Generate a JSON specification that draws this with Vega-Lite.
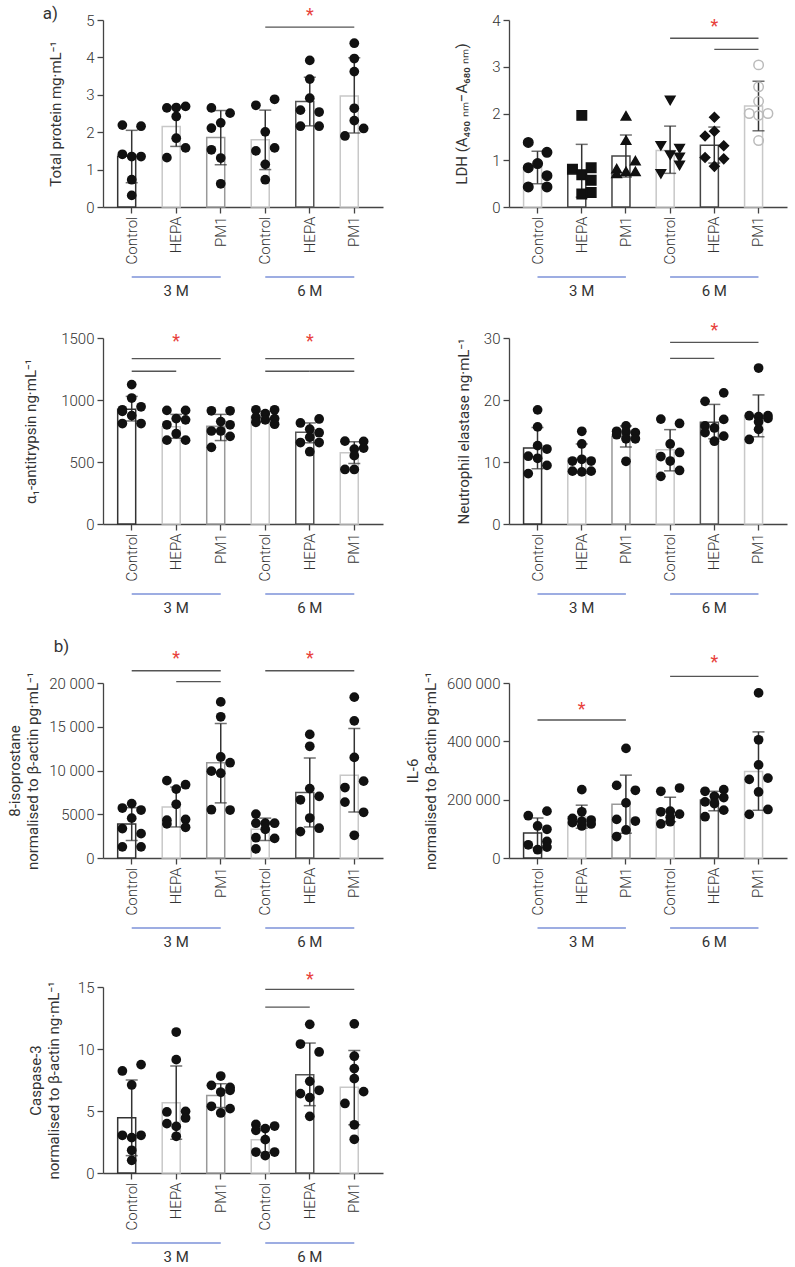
{
  "$schema": "https://vega.github.io/schema/vega-lite/v6.json",
  "background": "white",
  "padding": {"left": 7, "top": 5, "right": 2, "bottom": 3},
  "columns": 2,
  "spacing": {"row": 21, "column": 22},
  "align": "each",
  "datasets": {
    "grp": [
      {"t": "3 M", "a": "3 M|Control", "b": "3 M|PM1", "m": "3 M|HEPA"},
      {"t": "6 M", "a": "6 M|Control", "b": "6 M|PM1", "m": "6 M|HEPA"}
    ],
    "sum": [
      {"p": "tp", "g": "3 M|Control", "mean": 1.36, "lo": 0.65, "hi": 2.05},
      {"p": "tp", "g": "3 M|HEPA", "mean": 2.15, "lo": 1.62, "hi": 2.68},
      {"p": "tp", "g": "3 M|PM1", "mean": 1.86, "lo": 1.13, "hi": 2.58},
      {"p": "tp", "g": "6 M|Control", "mean": 1.80, "lo": 1.00, "hi": 2.59},
      {"p": "tp", "g": "6 M|HEPA", "mean": 2.82, "lo": 2.17, "hi": 3.47},
      {"p": "tp", "g": "6 M|PM1", "mean": 2.97, "lo": 1.98, "hi": 3.99},
      {"p": "ldh", "g": "3 M|Control", "mean": 0.84, "lo": 0.50, "hi": 1.19},
      {"p": "ldh", "g": "3 M|HEPA", "mean": 0.78, "lo": 0.21, "hi": 1.34},
      {"p": "ldh", "g": "3 M|PM1", "mean": 1.09, "lo": 0.64, "hi": 1.54},
      {"p": "ldh", "g": "6 M|Control", "mean": 1.21, "lo": 0.72, "hi": 1.73},
      {"p": "ldh", "g": "6 M|HEPA", "mean": 1.32, "lo": 0.94, "hi": 1.71},
      {"p": "ldh", "g": "6 M|PM1", "mean": 2.16, "lo": 1.63, "hi": 2.69},
      {"p": "a1", "g": "3 M|Control", "mean": 926, "lo": 831, "hi": 1029},
      {"p": "a1", "g": "3 M|HEPA", "mean": 784, "lo": 691, "hi": 884},
      {"p": "a1", "g": "3 M|PM1", "mean": 789, "lo": 673, "hi": 884},
      {"p": "a1", "g": "6 M|Control", "mean": 866, "lo": 824, "hi": 908},
      {"p": "a1", "g": "6 M|HEPA", "mean": 739, "lo": 655, "hi": 815},
      {"p": "a1", "g": "6 M|PM1", "mean": 575, "lo": 487, "hi": 663},
      {"p": "ne", "g": "3 M|Control", "mean": 12.25, "lo": 8.90, "hi": 15.55},
      {"p": "ne", "g": "3 M|HEPA", "mean": 10.55, "lo": 8.20, "hi": 12.91},
      {"p": "ne", "g": "3 M|PM1", "mean": 14.12, "lo": 12.42, "hi": 15.82},
      {"p": "ne", "g": "6 M|Control", "mean": 11.98, "lo": 8.57, "hi": 15.22},
      {"p": "ne", "g": "6 M|HEPA", "mean": 16.43, "lo": 13.74, "hi": 19.29},
      {"p": "ne", "g": "6 M|PM1", "mean": 17.40, "lo": 14.07, "hi": 20.82},
      {"p": "iso", "g": "3 M|Control", "mean": 3900, "lo": 2000, "hi": 5750},
      {"p": "iso", "g": "3 M|HEPA", "mean": 5830, "lo": 3550, "hi": 8108},
      {"p": "iso", "g": "3 M|PM1", "mean": 10888, "lo": 6300, "hi": 15370},
      {"p": "iso", "g": "6 M|Control", "mean": 3282, "lo": 2000, "hi": 4556},
      {"p": "iso", "g": "6 M|HEPA", "mean": 7490, "lo": 3550, "hi": 11429},
      {"p": "iso", "g": "6 M|PM1", "mean": 9470, "lo": 5250, "hi": 14800},
      {"p": "il6", "g": "3 M|Control", "mean": 86000, "lo": 35000, "hi": 137000},
      {"p": "il6", "g": "3 M|HEPA", "mean": 141500, "lo": 102000, "hi": 181100},
      {"p": "il6", "g": "3 M|PM1", "mean": 184500, "lo": 85000, "hi": 284100},
      {"p": "il6", "g": "6 M|Control", "mean": 166400, "lo": 124500, "hi": 208300},
      {"p": "il6", "g": "6 M|HEPA", "mean": 199200, "lo": 161900, "hi": 228700},
      {"p": "il6", "g": "6 M|PM1", "mean": 296600, "lo": 163600, "hi": 432400},
      {"p": "cas", "g": "3 M|Control", "mean": 4.46, "lo": 1.40, "hi": 7.50},
      {"p": "cas", "g": "3 M|HEPA", "mean": 5.67, "lo": 2.72, "hi": 8.63},
      {"p": "cas", "g": "3 M|PM1", "mean": 6.24, "lo": 5.28, "hi": 7.20},
      {"p": "cas", "g": "6 M|Control", "mean": 2.69, "lo": 1.67, "hi": 3.71},
      {"p": "cas", "g": "6 M|HEPA", "mean": 7.93, "lo": 5.43, "hi": 10.48},
      {"p": "cas", "g": "6 M|PM1", "mean": 6.91, "lo": 3.90, "hi": 9.87}
    ],
    "sig": [
      {"p": "tp", "a": "6 M|Control", "b": "6 M|PM1", "y": 4.81},
      {"p": "ldh", "a": "6 M|Control", "b": "6 M|PM1", "y": 3.61},
      {"p": "ldh", "a": "6 M|HEPA", "b": "6 M|PM1", "y": 3.37},
      {"p": "a1", "a": "3 M|Control", "b": "3 M|PM1", "y": 1333},
      {"p": "a1", "a": "3 M|Control", "b": "3 M|HEPA", "y": 1232},
      {"p": "a1", "a": "6 M|Control", "b": "6 M|PM1", "y": 1333},
      {"p": "a1", "a": "6 M|Control", "b": "6 M|HEPA", "y": 1232},
      {"p": "a1", "a": "6 M|HEPA", "b": "6 M|PM1", "y": 1232},
      {"p": "ne", "a": "6 M|Control", "b": "6 M|PM1", "y": 29.29},
      {"p": "ne", "a": "6 M|Control", "b": "6 M|HEPA", "y": 26.70},
      {"p": "iso", "a": "3 M|Control", "b": "3 M|PM1", "y": 21400},
      {"p": "iso", "a": "3 M|HEPA", "b": "3 M|PM1", "y": 20150},
      {"p": "iso", "a": "6 M|Control", "b": "6 M|PM1", "y": 21400},
      {"p": "il6", "a": "3 M|Control", "b": "3 M|PM1", "y": 473200},
      {"p": "il6", "a": "6 M|Control", "b": "6 M|PM1", "y": 622600},
      {"p": "cas", "a": "6 M|Control", "b": "6 M|PM1", "y": 14.81},
      {"p": "cas", "a": "6 M|Control", "b": "6 M|HEPA", "y": 13.38}
    ],
    "star": [
      {"p": "tp", "m": "6 M|HEPA", "y": 5.10},
      {"p": "ldh", "m": "6 M|HEPA", "y": 3.86},
      {"p": "a1", "m": "3 M|HEPA", "y": 1467},
      {"p": "a1", "m": "6 M|HEPA", "y": 1467},
      {"p": "ne", "m": "6 M|HEPA", "y": 31.2},
      {"p": "iso", "m": "3 M|HEPA", "y": 22700},
      {"p": "iso", "m": "6 M|HEPA", "y": 22700},
      {"p": "il6", "m": "3 M|HEPA", "y": 506000},
      {"p": "il6", "m": "6 M|HEPA", "y": 667800},
      {"p": "cas", "m": "6 M|HEPA", "y": 15.54}
    ],
    "pts": [
      {"p":"tp","g":"3 M|Control","v":2.19,"c":"L"},{"p":"tp","g":"3 M|Control","v":2.16,"c":"R"},{"p":"tp","g":"3 M|Control","v":1.41,"c":"L"},{"p":"tp","g":"3 M|Control","v":1.35,"c":"C"},{"p":"tp","g":"3 M|Control","v":1.35,"c":"R"},{"p":"tp","g":"3 M|Control","v":0.73,"c":"C"},{"p":"tp","g":"3 M|Control","v":0.31,"c":"C"},
      {"p":"tp","g":"3 M|HEPA","v":2.65,"c":"L"},{"p":"tp","g":"3 M|HEPA","v":2.69,"c":"R"},{"p":"tp","g":"3 M|HEPA","v":2.66,"c":"C"},{"p":"tp","g":"3 M|HEPA","v":2.42,"c":"C"},{"p":"tp","g":"3 M|HEPA","v":1.84,"c":"C"},{"p":"tp","g":"3 M|HEPA","v":1.58,"c":"R"},{"p":"tp","g":"3 M|HEPA","v":1.32,"c":"L"},
      {"p":"tp","g":"3 M|PM1","v":2.65,"c":"L"},{"p":"tp","g":"3 M|PM1","v":2.51,"c":"R"},{"p":"tp","g":"3 M|PM1","v":2.25,"c":"C"},{"p":"tp","g":"3 M|PM1","v":2.11,"c":"L"},{"p":"tp","g":"3 M|PM1","v":1.53,"c":"L"},{"p":"tp","g":"3 M|PM1","v":1.31,"c":"C"},{"p":"tp","g":"3 M|PM1","v":0.62,"c":"C"},
      {"p":"tp","g":"6 M|Control","v":2.72,"c":"L"},{"p":"tp","g":"6 M|Control","v":2.88,"c":"R"},{"p":"tp","g":"6 M|Control","v":2.01,"c":"C"},{"p":"tp","g":"6 M|Control","v":1.50,"c":"L"},{"p":"tp","g":"6 M|Control","v":1.58,"c":"R"},{"p":"tp","g":"6 M|Control","v":1.14,"c":"C"},{"p":"tp","g":"6 M|Control","v":0.73,"c":"C"},
      {"p":"tp","g":"6 M|HEPA","v":3.92,"c":"C"},{"p":"tp","g":"6 M|HEPA","v":3.42,"c":"C"},{"p":"tp","g":"6 M|HEPA","v":2.91,"c":"C"},{"p":"tp","g":"6 M|HEPA","v":2.59,"c":"L"},{"p":"tp","g":"6 M|HEPA","v":2.54,"c":"R"},{"p":"tp","g":"6 M|HEPA","v":2.16,"c":"L"},{"p":"tp","g":"6 M|HEPA","v":2.16,"c":"R"},
      {"p":"tp","g":"6 M|PM1","v":4.38,"c":"C"},{"p":"tp","g":"6 M|PM1","v":3.97,"c":"C"},{"p":"tp","g":"6 M|PM1","v":3.62,"c":"C"},{"p":"tp","g":"6 M|PM1","v":2.64,"c":"C"},{"p":"tp","g":"6 M|PM1","v":2.31,"c":"C"},{"p":"tp","g":"6 M|PM1","v":2.10,"c":"R"},{"p":"tp","g":"6 M|PM1","v":1.90,"c":"L"},

      {"p":"ldh","g":"3 M|Control","v":1.38,"c":"L"},{"p":"ldh","g":"3 M|Control","v":1.17,"c":"R"},{"p":"ldh","g":"3 M|Control","v":0.93,"c":"C"},{"p":"ldh","g":"3 M|Control","v":0.84,"c":"L"},{"p":"ldh","g":"3 M|Control","v":0.67,"c":"R"},{"p":"ldh","g":"3 M|Control","v":0.43,"c":"L"},{"p":"ldh","g":"3 M|Control","v":0.43,"c":"R"},
      {"p":"ldh","g":"3 M|HEPA","v":1.96,"c":"C"},{"p":"ldh","g":"3 M|HEPA","v":0.84,"c":"R"},{"p":"ldh","g":"3 M|HEPA","v":0.81,"c":"L"},{"p":"ldh","g":"3 M|HEPA","v":0.69,"c":"C"},{"p":"ldh","g":"3 M|HEPA","v":0.57,"c":"R"},{"p":"ldh","g":"3 M|HEPA","v":0.31,"c":"R"},{"p":"ldh","g":"3 M|HEPA","v":0.28,"c":"C"},
      {"p":"ldh","g":"3 M|PM1","v":1.95,"c":"C"},{"p":"ldh","g":"3 M|PM1","v":1.43,"c":"C"},{"p":"ldh","g":"3 M|PM1","v":0.99,"c":"R"},{"p":"ldh","g":"3 M|PM1","v":0.82,"c":"L"},{"p":"ldh","g":"3 M|PM1","v":0.76,"c":"R"},{"p":"ldh","g":"3 M|PM1","v":0.72,"c":"L"},{"p":"ldh","g":"3 M|PM1","v":0.76,"c":"C"},
      {"p":"ldh","g":"6 M|Control","v":2.28,"c":"C"},{"p":"ldh","g":"6 M|Control","v":1.31,"c":"L"},{"p":"ldh","g":"6 M|Control","v":1.25,"c":"R"},{"p":"ldh","g":"6 M|Control","v":1.11,"c":"C"},{"p":"ldh","g":"6 M|Control","v":1.06,"c":"R"},{"p":"ldh","g":"6 M|Control","v":0.89,"c":"R"},{"p":"ldh","g":"6 M|Control","v":0.71,"c":"L"},
      {"p":"ldh","g":"6 M|HEPA","v":1.92,"c":"C"},{"p":"ldh","g":"6 M|HEPA","v":1.62,"c":"C"},{"p":"ldh","g":"6 M|HEPA","v":1.52,"c":"L"},{"p":"ldh","g":"6 M|HEPA","v":1.31,"c":"R"},{"p":"ldh","g":"6 M|HEPA","v":1.06,"c":"L"},{"p":"ldh","g":"6 M|HEPA","v":1.03,"c":"R"},{"p":"ldh","g":"6 M|HEPA","v":0.87,"c":"C"},
      {"p":"ldh","g":"6 M|PM1","v":3.04,"c":"C"},{"p":"ldh","g":"6 M|PM1","v":2.57,"c":"C"},{"p":"ldh","g":"6 M|PM1","v":2.26,"c":"C"},{"p":"ldh","g":"6 M|PM1","v":2.00,"c":"L"},{"p":"ldh","g":"6 M|PM1","v":2.00,"c":"R"},{"p":"ldh","g":"6 M|PM1","v":1.96,"c":"C"},{"p":"ldh","g":"6 M|PM1","v":1.42,"c":"C"},

      {"p":"a1","g":"3 M|Control","v":1124,"c":"C"},{"p":"a1","g":"3 M|Control","v":1016,"c":"C"},{"p":"a1","g":"3 M|Control","v":921,"c":"L"},{"p":"a1","g":"3 M|Control","v":908,"c":"L"},{"p":"a1","g":"3 M|Control","v":945,"c":"R"},{"p":"a1","g":"3 M|Control","v":874,"c":"C"},{"p":"a1","g":"3 M|Control","v":810,"c":"L"},{"p":"a1","g":"3 M|Control","v":810,"c":"R"},
      {"p":"a1","g":"3 M|HEPA","v":916,"c":"L"},{"p":"a1","g":"3 M|HEPA","v":916,"c":"R"},{"p":"a1","g":"3 M|HEPA","v":850,"c":"C"},{"p":"a1","g":"3 M|HEPA","v":840,"c":"R"},{"p":"a1","g":"3 M|HEPA","v":800,"c":"L"},{"p":"a1","g":"3 M|HEPA","v":728,"c":"C"},{"p":"a1","g":"3 M|HEPA","v":676,"c":"L"},{"p":"a1","g":"3 M|HEPA","v":676,"c":"R"},
      {"p":"a1","g":"3 M|PM1","v":913,"c":"L"},{"p":"a1","g":"3 M|PM1","v":913,"c":"R"},{"p":"a1","g":"3 M|PM1","v":826,"c":"C"},{"p":"a1","g":"3 M|PM1","v":800,"c":"R"},{"p":"a1","g":"3 M|PM1","v":750,"c":"L"},{"p":"a1","g":"3 M|PM1","v":750,"c":"C"},{"p":"a1","g":"3 M|PM1","v":707,"c":"R"},{"p":"a1","g":"3 M|PM1","v":618,"c":"L"},
      {"p":"a1","g":"6 M|Control","v":921,"c":"L"},{"p":"a1","g":"6 M|Control","v":921,"c":"R"},{"p":"a1","g":"6 M|Control","v":890,"c":"C"},{"p":"a1","g":"6 M|Control","v":860,"c":"L"},{"p":"a1","g":"6 M|Control","v":850,"c":"R"},{"p":"a1","g":"6 M|Control","v":840,"c":"C"},{"p":"a1","g":"6 M|Control","v":820,"c":"L"},{"p":"a1","g":"6 M|Control","v":805,"c":"R"},
      {"p":"a1","g":"6 M|HEPA","v":815,"c":"L"},{"p":"a1","g":"6 M|HEPA","v":847,"c":"R"},{"p":"a1","g":"6 M|HEPA","v":765,"c":"C"},{"p":"a1","g":"6 M|HEPA","v":736,"c":"R"},{"p":"a1","g":"6 M|HEPA","v":700,"c":"C"},{"p":"a1","g":"6 M|HEPA","v":657,"c":"L"},{"p":"a1","g":"6 M|HEPA","v":657,"c":"R"},{"p":"a1","g":"6 M|HEPA","v":583,"c":"C"},
      {"p":"a1","g":"6 M|PM1","v":668,"c":"L"},{"p":"a1","g":"6 M|PM1","v":666,"c":"R"},{"p":"a1","g":"6 M|PM1","v":612,"c":"R"},{"p":"a1","g":"6 M|PM1","v":604,"c":"C"},{"p":"a1","g":"6 M|PM1","v":551,"c":"C"},{"p":"a1","g":"6 M|PM1","v":440,"c":"L"},{"p":"a1","g":"6 M|PM1","v":440,"c":"C"},

      {"p":"ne","g":"3 M|Control","v":18.41,"c":"C"},{"p":"ne","g":"3 M|Control","v":15.66,"c":"C"},{"p":"ne","g":"3 M|Control","v":12.64,"c":"C"},{"p":"ne","g":"3 M|Control","v":12.09,"c":"R"},{"p":"ne","g":"3 M|Control","v":10.93,"c":"L"},{"p":"ne","g":"3 M|Control","v":10.6,"c":"C"},{"p":"ne","g":"3 M|Control","v":9.45,"c":"R"},{"p":"ne","g":"3 M|Control","v":8.13,"c":"L"},
      {"p":"ne","g":"3 M|HEPA","v":14.95,"c":"C"},{"p":"ne","g":"3 M|HEPA","v":12.91,"c":"C"},{"p":"ne","g":"3 M|HEPA","v":10.44,"c":"C"},{"p":"ne","g":"3 M|HEPA","v":10.16,"c":"L"},{"p":"ne","g":"3 M|HEPA","v":10.16,"c":"R"},{"p":"ne","g":"3 M|HEPA","v":8.52,"c":"L"},{"p":"ne","g":"3 M|HEPA","v":8.41,"c":"C"},{"p":"ne","g":"3 M|HEPA","v":8.52,"c":"R"},
      {"p":"ne","g":"3 M|PM1","v":15.82,"c":"C"},{"p":"ne","g":"3 M|PM1","v":14.95,"c":"L"},{"p":"ne","g":"3 M|PM1","v":14.84,"c":"C"},{"p":"ne","g":"3 M|PM1","v":14.73,"c":"R"},{"p":"ne","g":"3 M|PM1","v":14.40,"c":"L"},{"p":"ne","g":"3 M|PM1","v":13.74,"c":"R"},{"p":"ne","g":"3 M|PM1","v":13.74,"c":"C"},{"p":"ne","g":"3 M|PM1","v":10.11,"c":"C"},
      {"p":"ne","g":"6 M|Control","v":16.92,"c":"L"},{"p":"ne","g":"6 M|Control","v":16.21,"c":"R"},{"p":"ne","g":"6 M|Control","v":12.91,"c":"C"},{"p":"ne","g":"6 M|Control","v":11.54,"c":"R"},{"p":"ne","g":"6 M|Control","v":10.88,"c":"L"},{"p":"ne","g":"6 M|Control","v":10.16,"c":"C"},{"p":"ne","g":"6 M|Control","v":8.63,"c":"R"},{"p":"ne","g":"6 M|Control","v":7.69,"c":"L"},
      {"p":"ne","g":"6 M|HEPA","v":21.15,"c":"R"},{"p":"ne","g":"6 M|HEPA","v":19.78,"c":"L"},{"p":"ne","g":"6 M|HEPA","v":16.87,"c":"R"},{"p":"ne","g":"6 M|HEPA","v":15.82,"c":"L"},{"p":"ne","g":"6 M|HEPA","v":15.49,"c":"C"},{"p":"ne","g":"6 M|HEPA","v":14.73,"c":"L"},{"p":"ne","g":"6 M|HEPA","v":14.18,"c":"R"},{"p":"ne","g":"6 M|HEPA","v":13.35,"c":"C"},
      {"p":"ne","g":"6 M|PM1","v":25.16,"c":"C"},{"p":"ne","g":"6 M|PM1","v":17.47,"c":"L"},{"p":"ne","g":"6 M|PM1","v":17.30,"c":"C"},{"p":"ne","g":"6 M|PM1","v":17.47,"c":"R"},{"p":"ne","g":"6 M|PM1","v":17.03,"c":"R"},{"p":"ne","g":"6 M|PM1","v":16.48,"c":"C"},{"p":"ne","g":"6 M|PM1","v":15.27,"c":"C"},{"p":"ne","g":"6 M|PM1","v":13.63,"c":"L"},

      {"p":"iso","g":"3 M|Control","v":6216,"c":"C"},{"p":"iso","g":"3 M|Control","v":5714,"c":"L"},{"p":"iso","g":"3 M|Control","v":5483,"c":"R"},{"p":"iso","g":"3 M|Control","v":4556,"c":"C"},{"p":"iso","g":"3 M|Control","v":3359,"c":"L"},{"p":"iso","g":"3 M|Control","v":2780,"c":"R"},{"p":"iso","g":"3 M|Control","v":1274,"c":"L"},{"p":"iso","g":"3 M|Control","v":1274,"c":"R"},
      {"p":"iso","g":"3 M|HEPA","v":8842,"c":"L"},{"p":"iso","g":"3 M|HEPA","v":8378,"c":"R"},{"p":"iso","g":"3 M|HEPA","v":7877,"c":"C"},{"p":"iso","g":"3 M|HEPA","v":6139,"c":"C"},{"p":"iso","g":"3 M|HEPA","v":4401,"c":"R"},{"p":"iso","g":"3 M|HEPA","v":4324,"c":"L"},{"p":"iso","g":"3 M|HEPA","v":3900,"c":"L"},{"p":"iso","g":"3 M|HEPA","v":3513,"c":"R"},
      {"p":"iso","g":"3 M|PM1","v":17838,"c":"C"},{"p":"iso","g":"3 M|PM1","v":16139,"c":"C"},{"p":"iso","g":"3 M|PM1","v":11544,"c":"C"},{"p":"iso","g":"3 M|PM1","v":10888,"c":"R"},{"p":"iso","g":"3 M|PM1","v":9923,"c":"L"},{"p":"iso","g":"3 M|PM1","v":9691,"c":"C"},{"p":"iso","g":"3 M|PM1","v":5521,"c":"L"},{"p":"iso","g":"3 M|PM1","v":5483,"c":"R"},
      {"p":"iso","g":"6 M|Control","v":5019,"c":"L"},{"p":"iso","g":"6 M|Control","v":3977,"c":"L"},{"p":"iso","g":"6 M|Control","v":3977,"c":"C"},{"p":"iso","g":"6 M|Control","v":3977,"c":"R"},{"p":"iso","g":"6 M|Control","v":3282,"c":"C"},{"p":"iso","g":"6 M|Control","v":2317,"c":"L"},{"p":"iso","g":"6 M|Control","v":2239,"c":"R"},{"p":"iso","g":"6 M|Control","v":1042,"c":"L"},
      {"p":"iso","g":"6 M|HEPA","v":14126,"c":"C"},{"p":"iso","g":"6 M|HEPA","v":12771,"c":"C"},{"p":"iso","g":"6 M|HEPA","v":7934,"c":"C"},{"p":"iso","g":"6 M|HEPA","v":7043,"c":"R"},{"p":"iso","g":"6 M|HEPA","v":6656,"c":"L"},{"p":"iso","g":"6 M|HEPA","v":4567,"c":"C"},{"p":"iso","g":"6 M|HEPA","v":3406,"c":"R"},{"p":"iso","g":"6 M|HEPA","v":3019,"c":"L"},
      {"p":"iso","g":"6 M|PM1","v":18383,"c":"C"},{"p":"iso","g":"6 M|PM1","v":15674,"c":"C"},{"p":"iso","g":"6 M|PM1","v":11494,"c":"C"},{"p":"iso","g":"6 M|PM1","v":8785,"c":"R"},{"p":"iso","g":"6 M|PM1","v":8050,"c":"L"},{"p":"iso","g":"6 M|PM1","v":6386,"c":"L"},{"p":"iso","g":"6 M|PM1","v":5225,"c":"R"},{"p":"iso","g":"6 M|PM1","v":2593,"c":"C"},

      {"p":"il6","g":"3 M|Control","v":160700,"c":"R"},{"p":"il6","g":"3 M|Control","v":144900,"c":"L"},{"p":"il6","g":"3 M|Control","v":109800,"c":"C"},{"p":"il6","g":"3 M|Control","v":98500,"c":"R"},{"p":"il6","g":"3 M|Control","v":56600,"c":"R"},{"p":"il6","g":"3 M|Control","v":45300,"c":"L"},{"p":"il6","g":"3 M|Control","v":37400,"c":"R"},{"p":"il6","g":"3 M|Control","v":28300,"c":"C"},
      {"p":"il6","g":"3 M|HEPA","v":234300,"c":"C"},{"p":"il6","g":"3 M|HEPA","v":158500,"c":"C"},{"p":"il6","g":"3 M|HEPA","v":135800,"c":"L"},{"p":"il6","g":"3 M|HEPA","v":130200,"c":"R"},{"p":"il6","g":"3 M|HEPA","v":121100,"c":"L"},{"p":"il6","g":"3 M|HEPA","v":116600,"c":"R"},{"p":"il6","g":"3 M|HEPA","v":109800,"c":"C"},{"p":"il6","g":"3 M|HEPA","v":126000,"c":"C"},
      {"p":"il6","g":"3 M|PM1","v":375800,"c":"C"},{"p":"il6","g":"3 M|PM1","v":249000,"c":"L"},{"p":"il6","g":"3 M|PM1","v":232100,"c":"R"},{"p":"il6","g":"3 M|PM1","v":189000,"c":"C"},{"p":"il6","g":"3 M|PM1","v":132400,"c":"L"},{"p":"il6","g":"3 M|PM1","v":126800,"c":"R"},{"p":"il6","g":"3 M|PM1","v":96200,"c":"C"},{"p":"il6","g":"3 M|PM1","v":73600,"c":"L"},
      {"p":"il6","g":"6 M|Control","v":240000,"c":"R"},{"p":"il6","g":"6 M|Control","v":228700,"c":"L"},{"p":"il6","g":"6 M|Control","v":160700,"c":"C"},{"p":"il6","g":"6 M|Control","v":158500,"c":"L"},{"p":"il6","g":"6 M|Control","v":150600,"c":"R"},{"p":"il6","g":"6 M|Control","v":140000,"c":"C"},{"p":"il6","g":"6 M|Control","v":124500,"c":"C"},{"p":"il6","g":"6 M|Control","v":116600,"c":"L"},
      {"p":"il6","g":"6 M|HEPA","v":234300,"c":"R"},{"p":"il6","g":"6 M|HEPA","v":228700,"c":"L"},{"p":"il6","g":"6 M|HEPA","v":211700,"c":"C"},{"p":"il6","g":"6 M|HEPA","v":207200,"c":"R"},{"p":"il6","g":"6 M|HEPA","v":192400,"c":"L"},{"p":"il6","g":"6 M|HEPA","v":186800,"c":"C"},{"p":"il6","g":"6 M|HEPA","v":164100,"c":"R"},{"p":"il6","g":"6 M|HEPA","v":141500,"c":"L"},
      {"p":"il6","g":"6 M|PM1","v":566000,"c":"C"},{"p":"il6","g":"6 M|PM1","v":405300,"c":"C"},{"p":"il6","g":"6 M|PM1","v":319200,"c":"C"},{"p":"il6","g":"6 M|PM1","v":273900,"c":"R"},{"p":"il6","g":"6 M|PM1","v":269400,"c":"L"},{"p":"il6","g":"6 M|PM1","v":226400,"c":"C"},{"p":"il6","g":"6 M|PM1","v":166400,"c":"R"},{"p":"il6","g":"6 M|PM1","v":149400,"c":"L"},

      {"p":"cas","g":"3 M|Control","v":8.74,"c":"R"},{"p":"cas","g":"3 M|Control","v":8.23,"c":"L"},{"p":"cas","g":"3 M|Control","v":7.10,"c":"C"},{"p":"cas","g":"3 M|Control","v":3.04,"c":"L"},{"p":"cas","g":"3 M|Control","v":3.04,"c":"R"},{"p":"cas","g":"3 M|Control","v":2.85,"c":"C"},{"p":"cas","g":"3 M|Control","v":1.83,"c":"C"},{"p":"cas","g":"3 M|Control","v":1.02,"c":"C"},
      {"p":"cas","g":"3 M|HEPA","v":11.37,"c":"C"},{"p":"cas","g":"3 M|HEPA","v":9.14,"c":"C"},{"p":"cas","g":"3 M|HEPA","v":4.97,"c":"R"},{"p":"cas","g":"3 M|HEPA","v":4.92,"c":"L"},{"p":"cas","g":"3 M|HEPA","v":4.44,"c":"R"},{"p":"cas","g":"3 M|HEPA","v":3.98,"c":"L"},{"p":"cas","g":"3 M|HEPA","v":3.76,"c":"C"},{"p":"cas","g":"3 M|HEPA","v":2.96,"c":"C"},
      {"p":"cas","g":"3 M|PM1","v":7.82,"c":"C"},{"p":"cas","g":"3 M|PM1","v":7.07,"c":"L"},{"p":"cas","g":"3 M|PM1","v":6.90,"c":"R"},{"p":"cas","g":"3 M|PM1","v":6.67,"c":"R"},{"p":"cas","g":"3 M|PM1","v":6.53,"c":"C"},{"p":"cas","g":"3 M|PM1","v":5.38,"c":"L"},{"p":"cas","g":"3 M|PM1","v":5.19,"c":"R"},{"p":"cas","g":"3 M|PM1","v":4.84,"c":"C"},
      {"p":"cas","g":"6 M|Control","v":3.92,"c":"L"},{"p":"cas","g":"6 M|Control","v":3.79,"c":"R"},{"p":"cas","g":"6 M|Control","v":3.58,"c":"C"},{"p":"cas","g":"6 M|Control","v":3.44,"c":"L"},{"p":"cas","g":"6 M|Control","v":2.69,"c":"C"},{"p":"cas","g":"6 M|Control","v":1.69,"c":"L"},{"p":"cas","g":"6 M|Control","v":1.69,"c":"R"},{"p":"cas","g":"6 M|Control","v":1.40,"c":"C"},
      {"p":"cas","g":"6 M|HEPA","v":11.99,"c":"C"},{"p":"cas","g":"6 M|HEPA","v":10.40,"c":"L"},{"p":"cas","g":"6 M|HEPA","v":9.76,"c":"R"},{"p":"cas","g":"6 M|HEPA","v":7.39,"c":"C"},{"p":"cas","g":"6 M|HEPA","v":6.67,"c":"R"},{"p":"cas","g":"6 M|HEPA","v":6.40,"c":"L"},{"p":"cas","g":"6 M|HEPA","v":6.08,"c":"C"},{"p":"cas","g":"6 M|HEPA","v":4.57,"c":"C"},
      {"p":"cas","g":"6 M|PM1","v":12.03,"c":"C"},{"p":"cas","g":"6 M|PM1","v":9.42,"c":"C"},{"p":"cas","g":"6 M|PM1","v":8.42,"c":"C"},{"p":"cas","g":"6 M|PM1","v":7.61,"c":"C"},{"p":"cas","g":"6 M|PM1","v":6.56,"c":"R"},{"p":"cas","g":"6 M|PM1","v":5.61,"c":"L"},{"p":"cas","g":"6 M|PM1","v":3.89,"c":"C"},{"p":"cas","g":"6 M|PM1","v":2.72,"c":"C"}
    ]
  },
  "concat": [
    {
      "width": 280, "height": 187,
      "title": {"text": "a)", "anchor": "start", "frame": "bounds", "fontSize": 17, "fontWeight": "normal", "color": "#333", "offset": 0, "dx": -6, "dy": 16},
      "layer": [
        {"data": {"name": "sum"}, "transform": [{"filter": "datum.p == 'tp'"}],
         "mark": {"type": "bar", "fill": "white", "strokeWidth": 1.5},
         "encoding": {
           "x": {"field": "g", "type": "nominal", "scale": {"domain": ["3 M|Control","3 M|HEPA","3 M|PM1","6 M|Control","6 M|HEPA","6 M|PM1"], "paddingInner": 0.37, "paddingOuter": 0.33}, "axis": {"title": null, "labelExpr": "split(datum.label, '|')[1]", "labelAngle": -90}},
           "y": {"field": "mean", "type": "quantitative", "scale": {"domain": [0, 5], "nice": false}, "axis": {"title": "Total protein mg·mL⁻¹", "values": [0,1,2,3,4,5], "tickCount": 6, "format": "d", "labelOverlap": false, "titlePadding": 22}},
           "stroke": {"field": "g", "type": "nominal", "scale": {"domain": ["3 M|Control","3 M|HEPA","3 M|PM1","6 M|Control","6 M|HEPA","6 M|PM1"], "range": ["#333","#c8c8c8","#999","#c8c8c8","#555","#c8c8c8"]}, "legend": null}
         }},
        {"data": {"name": "sum"}, "transform": [{"filter": "datum.p == 'tp'"}], "mark": {"type": "rule", "color": "#333", "strokeWidth": 1.5},
         "encoding": {"x": {"field": "g", "type": "nominal"}, "y": {"field": "lo", "type": "quantitative"}, "y2": {"field": "hi"}}},
        {"data": {"name": "sum"}, "transform": [{"filter": "datum.p == 'tp'"}], "mark": {"type": "tick", "color": "#333", "thickness": 1.5, "size": 12},
         "encoding": {"x": {"field": "g", "type": "nominal"}, "y": {"field": "lo", "type": "quantitative"}}},
        {"data": {"name": "sum"}, "transform": [{"filter": "datum.p == 'tp'"}], "mark": {"type": "tick", "color": "#333", "thickness": 1.5, "size": 12},
         "encoding": {"x": {"field": "g", "type": "nominal"}, "y": {"field": "hi", "type": "quantitative"}}},
        {"data": {"name": "pts"}, "transform": [{"filter": "datum.p == 'tp'"}], "mark": {"type": "circle", "size": 95, "color": "#111", "opacity": 1},
         "encoding": {"x": {"field": "g", "type": "nominal"}, "xOffset": {"field": "c", "type": "nominal", "scale": {"domain": ["L","C","R"]}}, "y": {"field": "v", "type": "quantitative"}}},
        {"data": {"name": "sig"}, "transform": [{"filter": "datum.p == 'tp'"}], "mark": {"type": "rule", "color": "#555", "strokeWidth": 1.3},
         "encoding": {"x": {"field": "a", "type": "nominal"}, "x2": {"field": "b"}, "y": {"field": "y", "type": "quantitative"}}},
        {"data": {"name": "star"}, "transform": [{"filter": "datum.p == 'tp'"}], "mark": {"type": "text", "text": "*", "color": "#e8413c", "fontSize": 18, "baseline": "middle"},
         "encoding": {"x": {"field": "m", "type": "nominal"}, "y": {"field": "y", "type": "quantitative"}}},
        {"data": {"name": "grp"}, "mark": {"type": "rule", "color": "#7d92d8", "strokeWidth": 1.5},
         "encoding": {"x": {"field": "a", "type": "nominal"}, "x2": {"field": "b"}, "y": {"datum": -1.872}}},
        {"data": {"name": "grp"}, "mark": {"type": "text", "fontSize": 15, "color": "#333", "baseline": "middle"},
         "encoding": {"x": {"field": "m", "type": "nominal"}, "y": {"datum": -2.246}, "text": {"field": "t"}}}
      ]
    },
    {
      "width": 278, "height": 187,
      "resolve": {"scale": {"stroke": "independent"}},
      "layer": [
        {"data": {"name": "sum"}, "transform": [{"filter": "datum.p == 'ldh'"}],
         "mark": {"type": "bar", "fill": "white", "strokeWidth": 1.5},
         "encoding": {
           "x": {"field": "g", "type": "nominal", "scale": {"domain": ["3 M|Control","3 M|HEPA","3 M|PM1","6 M|Control","6 M|HEPA","6 M|PM1"], "paddingInner": 0.37, "paddingOuter": 0.33}, "axis": {"title": null, "labelExpr": "split(datum.label, '|')[1]", "labelAngle": -90}},
           "y": {"field": "mean", "type": "quantitative", "scale": {"domain": [0, 4], "nice": false}, "axis": {"title": "LDH (A₄₉₀ ₙₘ−A₆₈₀ ₙₘ)", "values": [0,1,2,3,4], "tickCount": 6, "format": "d", "titlePadding": 22}},
           "stroke": {"field": "g", "type": "nominal", "scale": {"domain": ["3 M|Control","3 M|HEPA","3 M|PM1","6 M|Control","6 M|HEPA","6 M|PM1"], "range": ["#c8c8c8","#444","#444","#c8c8c8","#444","#c8c8c8"]}, "legend": null}
         }},
        {"data": {"name": "sum"}, "transform": [{"filter": "datum.p == 'ldh'"}], "mark": {"type": "rule", "color": "#333", "strokeWidth": 1.5},
         "encoding": {"x": {"field": "g", "type": "nominal"}, "y": {"field": "lo", "type": "quantitative"}, "y2": {"field": "hi"}}},
        {"data": {"name": "sum"}, "transform": [{"filter": "datum.p == 'ldh'"}], "mark": {"type": "tick", "color": "#333", "thickness": 1.5, "size": 12},
         "encoding": {"x": {"field": "g", "type": "nominal"}, "y": {"field": "lo", "type": "quantitative"}}},
        {"data": {"name": "sum"}, "transform": [{"filter": "datum.p == 'ldh'"}], "mark": {"type": "tick", "color": "#333", "thickness": 1.5, "size": 12},
         "encoding": {"x": {"field": "g", "type": "nominal"}, "y": {"field": "hi", "type": "quantitative"}}},
        {"data": {"name": "pts"}, "transform": [{"filter": "datum.p == 'ldh'"}], "mark": {"type": "point", "size": 90, "opacity": 1, "strokeWidth": 1.5},
         "encoding": {"x": {"field": "g", "type": "nominal"}, "xOffset": {"field": "c", "type": "nominal", "scale": {"domain": ["L","C","R"]}}, "y": {"field": "v", "type": "quantitative"},
           "shape": {"field": "g", "type": "nominal", "scale": {"domain": ["3 M|Control","3 M|HEPA","3 M|PM1","6 M|Control","6 M|HEPA","6 M|PM1"], "range": ["circle","square","triangle-up","triangle-down","diamond","circle"]}, "legend": null},
           "fill": {"field": "g", "type": "nominal", "scale": {"domain": ["3 M|Control","3 M|HEPA","3 M|PM1","6 M|Control","6 M|HEPA","6 M|PM1"], "range": ["#111","#111","#111","#111","#111","rgba(255,255,255,0)"]}, "legend": null},
           "stroke": {"field": "g", "type": "nominal", "scale": {"domain": ["3 M|Control","3 M|HEPA","3 M|PM1","6 M|Control","6 M|HEPA","6 M|PM1"], "range": ["#111","#111","#111","#111","#111","#bbbbbb"]}, "legend": null}}},
        {"data": {"name": "sig"}, "transform": [{"filter": "datum.p == 'ldh'"}], "mark": {"type": "rule", "color": "#555", "strokeWidth": 1.3},
         "encoding": {"x": {"field": "a", "type": "nominal"}, "x2": {"field": "b"}, "y": {"field": "y", "type": "quantitative"}}},
        {"data": {"name": "star"}, "transform": [{"filter": "datum.p == 'ldh'"}], "mark": {"type": "text", "text": "*", "color": "#e8413c", "fontSize": 18, "baseline": "middle"},
         "encoding": {"x": {"field": "m", "type": "nominal"}, "y": {"field": "y", "type": "quantitative"}}},
        {"data": {"name": "grp"}, "mark": {"type": "rule", "color": "#7d92d8", "strokeWidth": 1.5},
         "encoding": {"x": {"field": "a", "type": "nominal"}, "x2": {"field": "b"}, "y": {"datum": -1.497}}},
        {"data": {"name": "grp"}, "mark": {"type": "text", "fontSize": 15, "color": "#333", "baseline": "middle"},
         "encoding": {"x": {"field": "m", "type": "nominal"}, "y": {"datum": -1.797}, "text": {"field": "t"}}}
      ]
    },
    {
      "width": 280, "height": 186,
      "layer": [
        {"data": {"name": "sum"}, "transform": [{"filter": "datum.p == 'a1'"}],
         "mark": {"type": "bar", "fill": "white", "strokeWidth": 1.5},
         "encoding": {
           "x": {"field": "g", "type": "nominal", "scale": {"domain": ["3 M|Control","3 M|HEPA","3 M|PM1","6 M|Control","6 M|HEPA","6 M|PM1"], "paddingInner": 0.37, "paddingOuter": 0.33}, "axis": {"title": null, "labelExpr": "split(datum.label, '|')[1]", "labelAngle": -90}},
           "y": {"field": "mean", "type": "quantitative", "scale": {"domain": [0, 1500], "nice": false}, "axis": {"title": "α₁-antitrypsin ng·mL⁻¹", "values": [0,500,1000,1500], "tickCount": 6, "format": "d", "titlePadding": 22}},
           "stroke": {"field": "g", "type": "nominal", "scale": {"domain": ["3 M|Control","3 M|HEPA","3 M|PM1","6 M|Control","6 M|HEPA","6 M|PM1"], "range": ["#333","#c8c8c8","#aaa","#c8c8c8","#555","#c8c8c8"]}, "legend": null}
         }},
        {"data": {"name": "sum"}, "transform": [{"filter": "datum.p == 'a1'"}], "mark": {"type": "rule", "color": "#333", "strokeWidth": 1.5},
         "encoding": {"x": {"field": "g", "type": "nominal"}, "y": {"field": "lo", "type": "quantitative"}, "y2": {"field": "hi"}}},
        {"data": {"name": "sum"}, "transform": [{"filter": "datum.p == 'a1'"}], "mark": {"type": "tick", "color": "#333", "thickness": 1.5, "size": 12},
         "encoding": {"x": {"field": "g", "type": "nominal"}, "y": {"field": "lo", "type": "quantitative"}}},
        {"data": {"name": "sum"}, "transform": [{"filter": "datum.p == 'a1'"}], "mark": {"type": "tick", "color": "#333", "thickness": 1.5, "size": 12},
         "encoding": {"x": {"field": "g", "type": "nominal"}, "y": {"field": "hi", "type": "quantitative"}}},
        {"data": {"name": "pts"}, "transform": [{"filter": "datum.p == 'a1'"}], "mark": {"type": "circle", "size": 95, "color": "#111", "opacity": 1},
         "encoding": {"x": {"field": "g", "type": "nominal"}, "xOffset": {"field": "c", "type": "nominal", "scale": {"domain": ["L","C","R"]}}, "y": {"field": "v", "type": "quantitative"}}},
        {"data": {"name": "sig"}, "transform": [{"filter": "datum.p == 'a1'"}], "mark": {"type": "rule", "color": "#555", "strokeWidth": 1.3},
         "encoding": {"x": {"field": "a", "type": "nominal"}, "x2": {"field": "b"}, "y": {"field": "y", "type": "quantitative"}}},
        {"data": {"name": "star"}, "transform": [{"filter": "datum.p == 'a1'"}], "mark": {"type": "text", "text": "*", "color": "#e8413c", "fontSize": 18, "baseline": "middle"},
         "encoding": {"x": {"field": "m", "type": "nominal"}, "y": {"field": "y", "type": "quantitative"}}},
        {"data": {"name": "grp"}, "mark": {"type": "rule", "color": "#7d92d8", "strokeWidth": 1.5},
         "encoding": {"x": {"field": "a", "type": "nominal"}, "x2": {"field": "b"}, "y": {"datum": -564.5}}},
        {"data": {"name": "grp"}, "mark": {"type": "text", "fontSize": 15, "color": "#333", "baseline": "middle"},
         "encoding": {"x": {"field": "m", "type": "nominal"}, "y": {"datum": -677.4}, "text": {"field": "t"}}}
      ]
    },
    {
      "width": 278, "height": 186,
      "layer": [
        {"data": {"name": "sum"}, "transform": [{"filter": "datum.p == 'ne'"}],
         "mark": {"type": "bar", "fill": "white", "strokeWidth": 1.5},
         "encoding": {
           "x": {"field": "g", "type": "nominal", "scale": {"domain": ["3 M|Control","3 M|HEPA","3 M|PM1","6 M|Control","6 M|HEPA","6 M|PM1"], "paddingInner": 0.37, "paddingOuter": 0.33}, "axis": {"title": null, "labelExpr": "split(datum.label, '|')[1]", "labelAngle": -90}},
           "y": {"field": "mean", "type": "quantitative", "scale": {"domain": [0, 30], "nice": false}, "axis": {"title": "Neutrophil elastase ng·mL⁻¹", "values": [0,10,20,30], "tickCount": 6, "format": "d", "titlePadding": 12}},
           "stroke": {"field": "g", "type": "nominal", "scale": {"domain": ["3 M|Control","3 M|HEPA","3 M|PM1","6 M|Control","6 M|HEPA","6 M|PM1"], "range": ["#333","#c8c8c8","#444","#c8c8c8","#444","#c8c8c8"]}, "legend": null}
         }},
        {"data": {"name": "sum"}, "transform": [{"filter": "datum.p == 'ne'"}], "mark": {"type": "rule", "color": "#333", "strokeWidth": 1.5},
         "encoding": {"x": {"field": "g", "type": "nominal"}, "y": {"field": "lo", "type": "quantitative"}, "y2": {"field": "hi"}}},
        {"data": {"name": "sum"}, "transform": [{"filter": "datum.p == 'ne'"}], "mark": {"type": "tick", "color": "#333", "thickness": 1.5, "size": 12},
         "encoding": {"x": {"field": "g", "type": "nominal"}, "y": {"field": "lo", "type": "quantitative"}}},
        {"data": {"name": "sum"}, "transform": [{"filter": "datum.p == 'ne'"}], "mark": {"type": "tick", "color": "#333", "thickness": 1.5, "size": 12},
         "encoding": {"x": {"field": "g", "type": "nominal"}, "y": {"field": "hi", "type": "quantitative"}}},
        {"data": {"name": "pts"}, "transform": [{"filter": "datum.p == 'ne'"}], "mark": {"type": "circle", "size": 95, "color": "#111", "opacity": 1},
         "encoding": {"x": {"field": "g", "type": "nominal"}, "xOffset": {"field": "c", "type": "nominal", "scale": {"domain": ["L","C","R"]}}, "y": {"field": "v", "type": "quantitative"}}},
        {"data": {"name": "sig"}, "transform": [{"filter": "datum.p == 'ne'"}], "mark": {"type": "rule", "color": "#555", "strokeWidth": 1.3},
         "encoding": {"x": {"field": "a", "type": "nominal"}, "x2": {"field": "b"}, "y": {"field": "y", "type": "quantitative"}}},
        {"data": {"name": "star"}, "transform": [{"filter": "datum.p == 'ne'"}], "mark": {"type": "text", "text": "*", "color": "#e8413c", "fontSize": 18, "baseline": "middle"},
         "encoding": {"x": {"field": "m", "type": "nominal"}, "y": {"field": "y", "type": "quantitative"}}},
        {"data": {"name": "grp"}, "mark": {"type": "rule", "color": "#7d92d8", "strokeWidth": 1.5},
         "encoding": {"x": {"field": "a", "type": "nominal"}, "x2": {"field": "b"}, "y": {"datum": -11.29}}},
        {"data": {"name": "grp"}, "mark": {"type": "text", "fontSize": 15, "color": "#333", "baseline": "middle"},
         "encoding": {"x": {"field": "m", "type": "nominal"}, "y": {"datum": -13.55}, "text": {"field": "t"}}}
      ]
    },
    {
      "width": 280, "height": 175,
      "title": {"text": "b)", "anchor": "start", "frame": "bounds", "fontSize": 17, "fontWeight": "normal", "color": "#333", "offset": 0, "dx": 46, "dy": 6},
      "layer": [
        {"data": {"name": "sum"}, "transform": [{"filter": "datum.p == 'iso'"}],
         "mark": {"type": "bar", "fill": "white", "strokeWidth": 1.5},
         "encoding": {
           "x": {"field": "g", "type": "nominal", "scale": {"domain": ["3 M|Control","3 M|HEPA","3 M|PM1","6 M|Control","6 M|HEPA","6 M|PM1"], "paddingInner": 0.37, "paddingOuter": 0.33}, "axis": {"title": null, "labelExpr": "split(datum.label, '|')[1]", "labelAngle": -90}},
           "y": {"field": "mean", "type": "quantitative", "scale": {"domain": [0, 20000], "nice": false}, "axis": {"title": ["8-isoprostane", "normalised to β-actin pg·mL⁻¹"], "values": [0,5000,10000,15000,20000], "tickCount": 6, "titlePadding": 8, "labelExpr": "datum.value >= 10000 ? replace(format(datum.value, ','), ',', ' ') : format(datum.value, 'd')"}},
           "stroke": {"field": "g", "type": "nominal", "scale": {"domain": ["3 M|Control","3 M|HEPA","3 M|PM1","6 M|Control","6 M|HEPA","6 M|PM1"], "range": ["#333","#c8c8c8","#555","#c8c8c8","#444","#c8c8c8"]}, "legend": null}
         }},
        {"data": {"name": "sum"}, "transform": [{"filter": "datum.p == 'iso'"}], "mark": {"type": "rule", "color": "#333", "strokeWidth": 1.5},
         "encoding": {"x": {"field": "g", "type": "nominal"}, "y": {"field": "lo", "type": "quantitative"}, "y2": {"field": "hi"}}},
        {"data": {"name": "sum"}, "transform": [{"filter": "datum.p == 'iso'"}], "mark": {"type": "tick", "color": "#333", "thickness": 1.5, "size": 12},
         "encoding": {"x": {"field": "g", "type": "nominal"}, "y": {"field": "lo", "type": "quantitative"}}},
        {"data": {"name": "sum"}, "transform": [{"filter": "datum.p == 'iso'"}], "mark": {"type": "tick", "color": "#333", "thickness": 1.5, "size": 12},
         "encoding": {"x": {"field": "g", "type": "nominal"}, "y": {"field": "hi", "type": "quantitative"}}},
        {"data": {"name": "pts"}, "transform": [{"filter": "datum.p == 'iso'"}], "mark": {"type": "circle", "size": 95, "color": "#111", "opacity": 1},
         "encoding": {"x": {"field": "g", "type": "nominal"}, "xOffset": {"field": "c", "type": "nominal", "scale": {"domain": ["L","C","R"]}}, "y": {"field": "v", "type": "quantitative"}}},
        {"data": {"name": "sig"}, "transform": [{"filter": "datum.p == 'iso'"}], "mark": {"type": "rule", "color": "#555", "strokeWidth": 1.3},
         "encoding": {"x": {"field": "a", "type": "nominal"}, "x2": {"field": "b"}, "y": {"field": "y", "type": "quantitative"}}},
        {"data": {"name": "star"}, "transform": [{"filter": "datum.p == 'iso'"}], "mark": {"type": "text", "text": "*", "color": "#e8413c", "fontSize": 18, "baseline": "middle"},
         "encoding": {"x": {"field": "m", "type": "nominal"}, "y": {"field": "y", "type": "quantitative"}}},
        {"data": {"name": "grp"}, "mark": {"type": "rule", "color": "#7d92d8", "strokeWidth": 1.5},
         "encoding": {"x": {"field": "a", "type": "nominal"}, "x2": {"field": "b"}, "y": {"datum": -8000}}},
        {"data": {"name": "grp"}, "mark": {"type": "text", "fontSize": 15, "color": "#333", "baseline": "middle"},
         "encoding": {"x": {"field": "m", "type": "nominal"}, "y": {"datum": -9600}, "text": {"field": "t"}}}
      ]
    },
    {
      "width": 278, "height": 175,
      "layer": [
        {"data": {"name": "sum"}, "transform": [{"filter": "datum.p == 'il6'"}],
         "mark": {"type": "bar", "fill": "white", "strokeWidth": 1.5},
         "encoding": {
           "x": {"field": "g", "type": "nominal", "scale": {"domain": ["3 M|Control","3 M|HEPA","3 M|PM1","6 M|Control","6 M|HEPA","6 M|PM1"], "paddingInner": 0.37, "paddingOuter": 0.33}, "axis": {"title": null, "labelExpr": "split(datum.label, '|')[1]", "labelAngle": -90}},
           "y": {"field": "mean", "type": "quantitative", "scale": {"domain": [0, 600000], "nice": false}, "axis": {"title": ["IL-6", "normalised to β-actin pg·mL⁻¹"], "values": [0,200000,400000,600000], "tickCount": 6, "titlePadding": 8, "labelExpr": "datum.value >= 10000 ? replace(format(datum.value, ','), ',', ' ') : format(datum.value, 'd')"}},
           "stroke": {"field": "g", "type": "nominal", "scale": {"domain": ["3 M|Control","3 M|HEPA","3 M|PM1","6 M|Control","6 M|HEPA","6 M|PM1"], "range": ["#333","#c8c8c8","#c8c8c8","#c8c8c8","#444","#c8c8c8"]}, "legend": null}
         }},
        {"data": {"name": "sum"}, "transform": [{"filter": "datum.p == 'il6'"}], "mark": {"type": "rule", "color": "#333", "strokeWidth": 1.5},
         "encoding": {"x": {"field": "g", "type": "nominal"}, "y": {"field": "lo", "type": "quantitative"}, "y2": {"field": "hi"}}},
        {"data": {"name": "sum"}, "transform": [{"filter": "datum.p == 'il6'"}], "mark": {"type": "tick", "color": "#333", "thickness": 1.5, "size": 12},
         "encoding": {"x": {"field": "g", "type": "nominal"}, "y": {"field": "lo", "type": "quantitative"}}},
        {"data": {"name": "sum"}, "transform": [{"filter": "datum.p == 'il6'"}], "mark": {"type": "tick", "color": "#333", "thickness": 1.5, "size": 12},
         "encoding": {"x": {"field": "g", "type": "nominal"}, "y": {"field": "hi", "type": "quantitative"}}},
        {"data": {"name": "pts"}, "transform": [{"filter": "datum.p == 'il6'"}], "mark": {"type": "circle", "size": 95, "color": "#111", "opacity": 1},
         "encoding": {"x": {"field": "g", "type": "nominal"}, "xOffset": {"field": "c", "type": "nominal", "scale": {"domain": ["L","C","R"]}}, "y": {"field": "v", "type": "quantitative"}}},
        {"data": {"name": "sig"}, "transform": [{"filter": "datum.p == 'il6'"}], "mark": {"type": "rule", "color": "#555", "strokeWidth": 1.3},
         "encoding": {"x": {"field": "a", "type": "nominal"}, "x2": {"field": "b"}, "y": {"field": "y", "type": "quantitative"}}},
        {"data": {"name": "star"}, "transform": [{"filter": "datum.p == 'il6'"}], "mark": {"type": "text", "text": "*", "color": "#e8413c", "fontSize": 18, "baseline": "middle"},
         "encoding": {"x": {"field": "m", "type": "nominal"}, "y": {"field": "y", "type": "quantitative"}}},
        {"data": {"name": "grp"}, "mark": {"type": "rule", "color": "#7d92d8", "strokeWidth": 1.5},
         "encoding": {"x": {"field": "a", "type": "nominal"}, "x2": {"field": "b"}, "y": {"datum": -240000}}},
        {"data": {"name": "grp"}, "mark": {"type": "text", "fontSize": 15, "color": "#333", "baseline": "middle"},
         "encoding": {"x": {"field": "m", "type": "nominal"}, "y": {"datum": -288000}, "text": {"field": "t"}}}
      ]
    },
    {
      "width": 280, "height": 186,
      "layer": [
        {"data": {"name": "sum"}, "transform": [{"filter": "datum.p == 'cas'"}],
         "mark": {"type": "bar", "fill": "white", "strokeWidth": 1.5},
         "encoding": {
           "x": {"field": "g", "type": "nominal", "scale": {"domain": ["3 M|Control","3 M|HEPA","3 M|PM1","6 M|Control","6 M|HEPA","6 M|PM1"], "paddingInner": 0.37, "paddingOuter": 0.33}, "axis": {"title": null, "labelExpr": "split(datum.label, '|')[1]", "labelAngle": -90}},
           "y": {"field": "mean", "type": "quantitative", "scale": {"domain": [0, 15], "nice": false}, "axis": {"title": ["Caspase-3", "normalised to β-actin ng·mL⁻¹"], "values": [0,5,10,15], "tickCount": 6, "format": "d", "titlePadding": 16}},
           "stroke": {"field": "g", "type": "nominal", "scale": {"domain": ["3 M|Control","3 M|HEPA","3 M|PM1","6 M|Control","6 M|HEPA","6 M|PM1"], "range": ["#333","#c8c8c8","#c8c8c8","#c8c8c8","#444","#c8c8c8"]}, "legend": null}
         }},
        {"data": {"name": "sum"}, "transform": [{"filter": "datum.p == 'cas'"}], "mark": {"type": "rule", "color": "#333", "strokeWidth": 1.5},
         "encoding": {"x": {"field": "g", "type": "nominal"}, "y": {"field": "lo", "type": "quantitative"}, "y2": {"field": "hi"}}},
        {"data": {"name": "sum"}, "transform": [{"filter": "datum.p == 'cas'"}], "mark": {"type": "tick", "color": "#333", "thickness": 1.5, "size": 12},
         "encoding": {"x": {"field": "g", "type": "nominal"}, "y": {"field": "lo", "type": "quantitative"}}},
        {"data": {"name": "sum"}, "transform": [{"filter": "datum.p == 'cas'"}], "mark": {"type": "tick", "color": "#333", "thickness": 1.5, "size": 12},
         "encoding": {"x": {"field": "g", "type": "nominal"}, "y": {"field": "hi", "type": "quantitative"}}},
        {"data": {"name": "pts"}, "transform": [{"filter": "datum.p == 'cas'"}], "mark": {"type": "circle", "size": 95, "color": "#111", "opacity": 1},
         "encoding": {"x": {"field": "g", "type": "nominal"}, "xOffset": {"field": "c", "type": "nominal", "scale": {"domain": ["L","C","R"]}}, "y": {"field": "v", "type": "quantitative"}}},
        {"data": {"name": "sig"}, "transform": [{"filter": "datum.p == 'cas'"}], "mark": {"type": "rule", "color": "#555", "strokeWidth": 1.3},
         "encoding": {"x": {"field": "a", "type": "nominal"}, "x2": {"field": "b"}, "y": {"field": "y", "type": "quantitative"}}},
        {"data": {"name": "star"}, "transform": [{"filter": "datum.p == 'cas'"}], "mark": {"type": "text", "text": "*", "color": "#e8413c", "fontSize": 18, "baseline": "middle"},
         "encoding": {"x": {"field": "m", "type": "nominal"}, "y": {"field": "y", "type": "quantitative"}}},
        {"data": {"name": "grp"}, "mark": {"type": "rule", "color": "#7d92d8", "strokeWidth": 1.5},
         "encoding": {"x": {"field": "a", "type": "nominal"}, "x2": {"field": "b"}, "y": {"datum": -5.645}}},
        {"data": {"name": "grp"}, "mark": {"type": "text", "fontSize": 15, "color": "#333", "baseline": "middle"},
         "encoding": {"x": {"field": "m", "type": "nominal"}, "y": {"datum": -6.774}, "text": {"field": "t"}}}
      ]
    }
  ],
  "config": {
    "view": {"stroke": null},
    "font": "Roboto",
    "text": {"font": "Roboto"},
    "title": {"font": "Roboto"},
    "axis": {
      "labelFont": "Roboto", "labelFontSize": 15, "labelColor": "#333", "labelFontWeight": 300, "labelOverlap": false,
      "titleFont": "Roboto", "titleFontSize": 15, "titleFontWeight": "normal", "titleColor": "#333", "titleLineHeight": 18,
      "domainColor": "#444", "domainWidth": 1.3, "tickColor": "#444", "tickWidth": 1.3, "tickSize": 6,
      "grid": false, "labelPadding": 3
    }
  }
}
